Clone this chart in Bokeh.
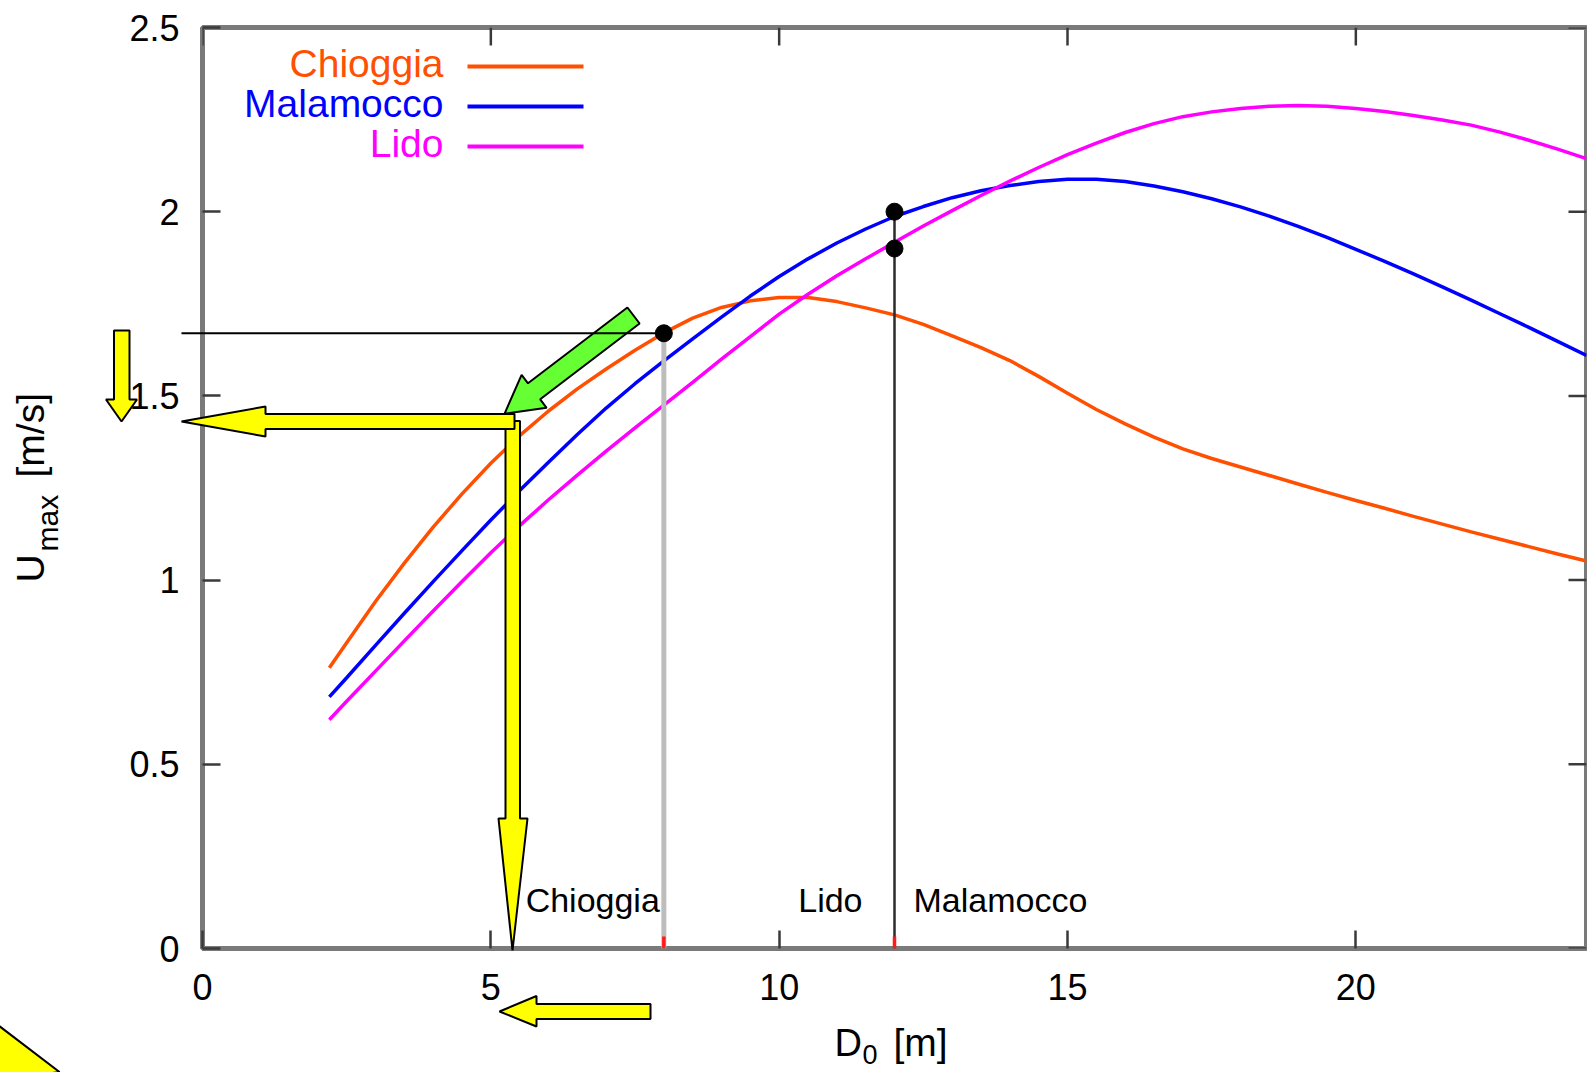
from math import pi

from bokeh.plotting import figure
from bokeh.models import Range1d, FixedTicker
from bokeh.embed import file_html
from bokeh.resources import INLINE
from bokeh.core.properties import value

# Inlet depth D0 [m] and maximum velocity Umax [m/s] for each inlet
depth = [2.2, 2.5, 3, 3.5, 4, 4.5, 5, 5.5, 6, 6.5, 7, 7.5, 8, 8.5, 9, 9.5, 10, 10.5, 11, 11.5,
         12, 12.5, 13, 13.5, 14, 14.5, 15, 15.5, 16, 16.5, 17, 17.5, 18, 18.5, 19, 19.5, 20,
         20.5, 21, 21.5, 22, 22.5, 23, 23.5, 24]
u_chioggia = [0.762, 0.830, 0.942, 1.046, 1.144, 1.234, 1.317, 1.392, 1.459, 1.519, 1.573,
              1.624, 1.671, 1.711, 1.740, 1.758, 1.767, 1.767, 1.756, 1.739, 1.720, 1.694,
              1.663, 1.631, 1.596, 1.553, 1.507, 1.463, 1.424, 1.388, 1.356, 1.330, 1.307,
              1.284, 1.261, 1.238, 1.216, 1.195, 1.173, 1.152, 1.131, 1.111, 1.091, 1.071, 1.052]
u_malamocco = [0.683, 0.735, 0.823, 0.910, 0.996, 1.080, 1.163, 1.243, 1.320, 1.395, 1.467,
               1.533, 1.595, 1.655, 1.714, 1.771, 1.824, 1.872, 1.915, 1.953, 1.987, 2.014,
               2.038, 2.057, 2.071, 2.082, 2.088, 2.088, 2.082, 2.070, 2.054, 2.035, 2.013,
               1.988, 1.960, 1.930, 1.898, 1.865, 1.831, 1.796, 1.760, 1.723, 1.686, 1.648, 1.610]
u_lido = [0.621, 0.671, 0.753, 0.835, 0.916, 0.996, 1.074, 1.148, 1.218, 1.285, 1.350,
          1.413, 1.475, 1.537, 1.600, 1.661, 1.722, 1.776, 1.826, 1.872, 1.917, 1.961,
          2.003, 2.044, 2.083, 2.120, 2.155, 2.186, 2.215, 2.239, 2.258, 2.271, 2.280,
          2.286, 2.288, 2.286, 2.280, 2.272, 2.261, 2.249, 2.235, 2.216, 2.194, 2.170, 2.144]

series_names = ["Chioggia", "Malamocco", "Lido"]
series_colors = ["#ff4f00", "#0000ff", "#ff00ff"]
series_values = [u_chioggia, u_malamocco, u_lido]

# Present-day inlet depths and their operating points
inlet_depth = [8, 12, 12]
inlet_u = [1.67, 2.0, 1.9]
inlet_names = ["Chioggia", "Lido", "Malamocco"]

x_ticks = [0, 5, 10, 15, 20]
x_tick_labels = ["0", "5", "10", "15", "20"]
y_ticks = [0, 0.5, 1, 1.5, 2, 2.5]
y_tick_labels = ["0", "0.5", "1", "1.5", "2", "2.5"]

FONT = "Liberation Sans"
WIDTH, HEIGHT = 1587, 1072
FRAME_LEFT, FRAME_RIGHT, FRAME_TOP, FRAME_BOTTOM = 202, 1586, 27, 948
X_END, Y_END = 24, 2.5
BASELINE_FIX = 0.36  # raise text drawn with an alphabetic baseline, in ems


def px_x(px):
    """Canvas pixel column -> D0 value."""
    return (px - FRAME_LEFT) * X_END / (FRAME_RIGHT - FRAME_LEFT)


def px_y(py):
    """Canvas pixel row -> Umax value."""
    return (FRAME_BOTTOM - py) * Y_END / (FRAME_BOTTOM - FRAME_TOP)


p = figure(width=WIDTH, height=HEIGHT,
           x_range=Range1d(0, X_END), y_range=Range1d(0, Y_END),
           output_backend="svg", toolbar_location=None,
           min_border_left=FRAME_LEFT, min_border_right=WIDTH - FRAME_RIGHT,
           min_border_top=FRAME_TOP, min_border_bottom=HEIGHT - FRAME_BOTTOM)
p.grid.visible = False
p.background_fill_color = "white"
p.border_fill_color = "white"
p.outline_line_color = "#7a7a7a"
p.outline_line_width = 5

TICK_COLOR = "#3a3a3a"
TICK_LEN = 18
for axis, ticks, labels in ((p.xaxis[0], x_ticks, x_tick_labels),
                            (p.yaxis[0], y_ticks, y_tick_labels)):
    axis.ticker = FixedTicker(ticks=ticks)
    axis.major_label_overrides = dict(zip(ticks, labels))
    axis.axis_line_color = None
    axis.major_tick_in = TICK_LEN
    axis.major_tick_out = 0
    axis.major_tick_line_color = TICK_COLOR
    axis.major_tick_line_width = 2.5
    axis.minor_tick_line_color = None
    axis.major_label_text_font = FONT
    axis.major_label_text_font_size = "36px"
    axis.major_label_text_color = "black"
p.xaxis.major_label_standoff = 25
p.yaxis.major_label_standoff = 23

# mirrored ticks on the top and right edges of the frame
tick_dy = TICK_LEN * Y_END / (FRAME_BOTTOM - FRAME_TOP)
tick_dx = TICK_LEN * X_END / (FRAME_RIGHT - FRAME_LEFT)
p.segment(x0=x_ticks, y0=[Y_END] * len(x_ticks), x1=x_ticks, y1=[Y_END - tick_dy] * len(x_ticks),
          line_color=TICK_COLOR, line_width=2.5)
p.segment(x0=[X_END] * len(y_ticks), y0=y_ticks, x1=[X_END - tick_dx] * len(y_ticks), y1=y_ticks,
          line_color=TICK_COLOR, line_width=2.5)

# velocity curves
for name, color, u in zip(series_names, series_colors, series_values):
    p.line(depth, u, line_color=color, line_width=3.5)

# drop lines from the operating points
p.segment(x0=[inlet_depth[0]], y0=[0], x1=[inlet_depth[0]], y1=[inlet_u[0]],
          line_color="#bdbdbd", line_width=5)
p.segment(x0=[inlet_depth[1]], y0=[0], x1=[inlet_depth[1]], y1=[max(inlet_u[1:])],
          line_color="#2b2b2b", line_width=2.5)
red_top = px_y(FRAME_BOTTOM - 12)
p.segment(x0=inlet_depth[:2], y0=[0, 0], x1=inlet_depth[:2], y1=[red_top, red_top],
          line_color="#ff1a1a", line_width=3.5)
p.scatter(inlet_depth, inlet_u, size=17, color="black")

# inlet names along the bottom
text_kw = dict(text_font=value(FONT), text_font_size="34px", text_color="black",
               text_baseline="alphabetic", y_offset=-36.5 - BASELINE_FIX * 34)
p.text(x=[inlet_depth[0]], y=[0], text=[inlet_names[0]], text_align="right", x_offset=-4, **text_kw)
p.text(x=[inlet_depth[1]], y=[0], text=[inlet_names[1]], text_align="right", x_offset=-32, **text_kw)
p.text(x=[inlet_depth[2]], y=[0], text=[inlet_names[2]], text_align="left", x_offset=19, **text_kw)

# key: label on the left, line sample on the right
key_rows = [66, 106, 146]
for name, color, row in zip(series_names, series_colors, key_rows):
    p.text(x=[px_x(443)], y=[px_y(row + 11.5 - BASELINE_FIX * 39)], text=[name], text_color=color,
           text_align="right", text_baseline="alphabetic",
           text_font=value(FONT), text_font_size="39px")
    p.line([px_x(467), px_x(583)], [px_y(row), px_y(row)], line_color=color, line_width=4)


# --- overlay drawing, allowed to run past the frame -------------------------
def shape(points, fill):
    p.patch([px_x(a) for a, _ in points], [px_y(b) for _, b in points],
            fill_color=fill, line_color="black", line_width=2, level="overlay")


YELLOW = "#ffff00"
GREEN = "#66ff33"

shape([(626.9, 307.0), (527.5, 382.8), (521.1, 374.3), (504, 413.3),
       (546.1, 407.3), (539.7, 398.8), (639.1, 323.0)], GREEN)

# reading line from the Chioggia operating point to the axis
p.line([px_x(181), inlet_depth[0]], [inlet_u[0], inlet_u[0]],
       line_color="black", line_width=2, level="overlay")

shape([(505, 420.5), (519.5, 420.5), (519.5, 818), (527, 818), (512, 950),
       (498, 818), (505, 818)], YELLOW)
shape([(514, 413.5), (265, 413.5), (265, 406), (181, 421), (265, 436),
       (265, 428.5), (514, 428.5)], YELLOW)
shape([(113.5, 330), (129, 330), (129, 399), (136.5, 399), (121, 421),
       (105.5, 399), (113.5, 399)], YELLOW)
shape([(650, 1003.5), (536, 1003.5), (536, 995.5), (499, 1011), (536, 1026),
       (536, 1018.5), (650, 1018.5)], YELLOW)
shape([(59, 1071.5), (-40, 996), (-40, 1085)], YELLOW)


# axis titles with subscripts
def title_part(text, px, py, size, angle=0.0):
    shift = BASELINE_FIX * size
    if angle:
        px -= shift
    else:
        py -= shift
    p.text(x=[px_x(px)], y=[px_y(py)], text=[text], angle=angle,
           text_align="left", text_baseline="alphabetic",
           text_font=value(FONT), text_font_size=f"{size}px", text_color="black",
           level="overlay")


title_part("U", 44, 582, 39, pi / 2)
title_part("max", 58, 551, 30, pi / 2)
title_part("[m/s]", 44, 477, 39, pi / 2)
title_part("D", 834, 1056, 38)
title_part("0", 862, 1064, 27)
title_part("[m]", 893, 1056, 39)

open("out.html", "w").write(file_html(p, INLINE))
